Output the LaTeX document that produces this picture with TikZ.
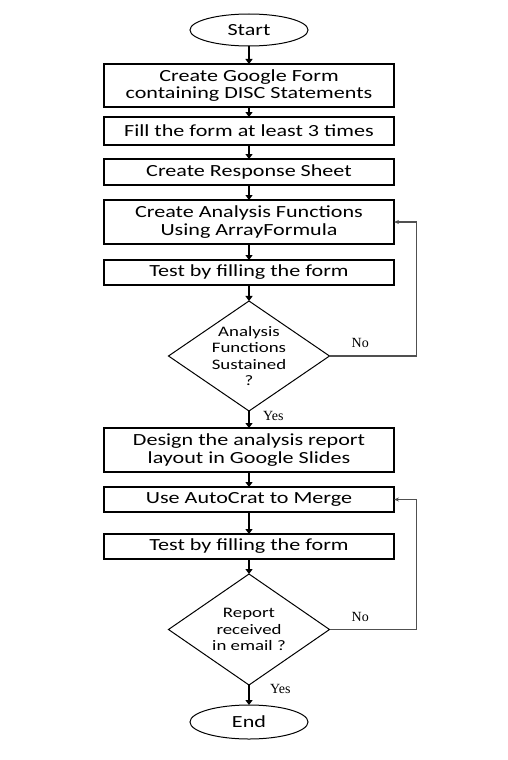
\documentclass[tikz,border=0pt]{standalone}
\usepackage{fontspec}
\setmainfont{Carlito}[FakeStretch=1.3]
\newfontfamily\labfont{Liberation Serif}
\usetikzlibrary{arrows.meta, shapes.geometric, positioning}
\definecolor{loopgray}{HTML}{505050}

\begin{document}
\begin{tikzpicture}[x=1pt, y=1pt,
      stepbox/.style={draw, line width=1.3pt, minimum width=290pt, minimum height=25pt, outer sep=0pt,
                      inner sep=2pt, align=center, font=\fontsize{17}{17.5}\selectfont},
      term/.style={draw, ellipse, line width=1pt, minimum width=118pt, minimum height=32pt,
                   outer sep=0pt, inner sep=0pt, font=\fontsize{17}{17.5}\selectfont},
      test/.style={draw, diamond, line width=1pt, minimum width=161pt, minimum height=110pt, outer sep=0pt,
                   aspect=1.46, inner sep=0pt, align=center, font=\fontsize{14.5}{16.3}\selectfont},
      lbl/.style={inner sep=0pt, font=\labfont\fontsize{14}{16}\selectfont},
      arr/.style={-{Triangle[length=5pt, width=7pt]}, line width=2pt},
      back/.style={-{Stealth[length=5pt, width=4pt]}, line width=1.3pt, color=loopgray}
    ]
    \useasboundingbox (0,0) rectangle (507,-760);
    \node[term] (start) at (249,-30) {Start};
    \node[stepbox, minimum height=43pt, below=18pt of start] (b1) {Create Google Form\\containing DISC Statements};
    \node[stepbox, minimum height=28pt, below=10pt of b1] (b2) {Fill the form at least 3 times};
    \node[stepbox, minimum height=26pt, below=14pt of b2] (b3) {Create Response Sheet};
    \node[stepbox, minimum height=44pt, below=15pt of b3] (b4) {Create Analysis Functions\\Using ArrayFormula};
    \node[stepbox, below=16pt of b4] (b5) {Test by filling the form};
    \node[test, below=16pt of b5] (d1) {Analysis\\Functions\\Sustained\\?};
    \node[stepbox, minimum height=44pt, below=17pt of d1] (b6) {Design the analysis report\\layout in Google Slides};
    \node[stepbox, below=15pt of b6] (b7) {Use AutoCrat to Merge};
    \node[stepbox, below=22pt of b7] (b8) {Test by filling the form};
    \node[test, minimum height=111pt, below=15pt of b8] (d2) {Report\\received\\in email ?};
    \node[term, minimum height=34pt, below=20pt of d2] (end) {End};
    \node[lbl, above right=8pt and 22pt of d1.east] (no1) {No};
    \node[lbl, below right=0pt and 14pt of d1.south] (yes1) {Yes};
    \node[lbl, above right=8pt and 22pt of d2.east] (no2) {No};
    \node[lbl, below right=-1pt and 21pt of d2.south] (yes2) {Yes};
    \draw[arr] (start)--(b1); \draw[arr] (b1)--(b2); \draw[arr] (b2)--(b3);
    \draw[arr] (b3)--(b4); \draw[arr] (b4)--(b5); \draw[arr] (b5)--(d1);
    \draw[arr] (d1)--(b6); \draw[arr] (b6)--(b7); \draw[arr] (b7)--(b8);
    \draw[arr] (b8)--(d2); \draw[arr] (d2)--(end);
    \draw[back] (d1.east) -- ++(87,0) |- (b4.east);
    \draw[back] (d2.east) -- ++(87,0) |- (b7.east);
  \end{tikzpicture}
\end{document}
